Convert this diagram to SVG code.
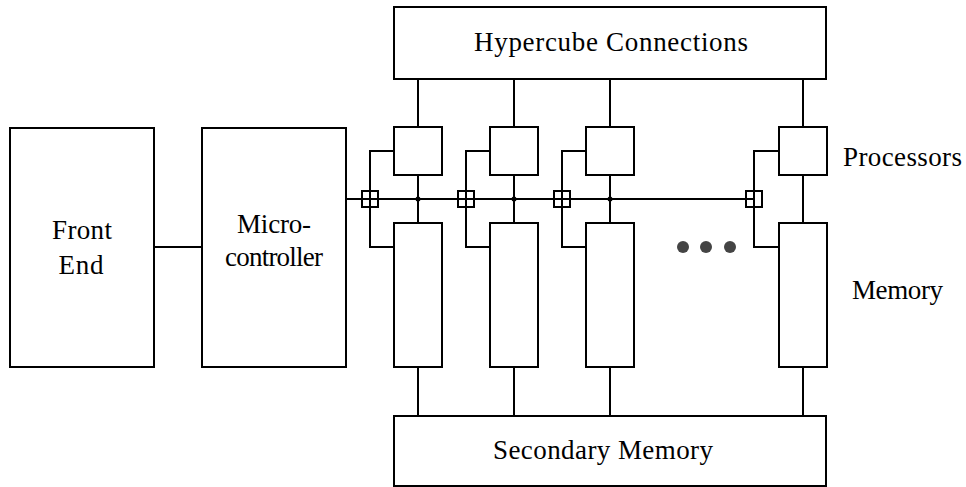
<svg xmlns="http://www.w3.org/2000/svg" width="966" height="487" viewBox="0 0 966 487">
<style>
.box{fill:#fff;stroke:#000;stroke-width:2}
.ln{fill:none;stroke:#000;stroke-width:2}
.sq{fill:none;stroke:#000;stroke-width:2}
text{font-size:27px;fill:#000}
.c{text-anchor:middle}
</style>
<rect width="966" height="487" fill="#fff"/>
<g id="connectors">
<path class="ln" d="M154,247H202"/>
<path class="ln" d="M346,199H754"/>
<path class="ln" d="M418,79V127M418,175V223M418,367V416"/>
<path class="ln" d="M514,79V127M514,175V223M514,367V416"/>
<path class="ln" d="M610,79V127M610,175V223M610,367V416"/>
<path class="ln" d="M803,79V127M803,175V223M803,367V416"/>
<path class="ln" d="M394,151H370V247H394"/>
<path class="ln" d="M490,151H466V247H490"/>
<path class="ln" d="M586,151H562V247H586"/>
<path class="ln" d="M779,151H754V247H779"/>
<rect class="sq" x="362" y="191" width="16" height="16"/>
<rect class="sq" x="458" y="191" width="16" height="16"/>
<rect class="sq" x="554" y="191" width="16" height="16"/>
<rect class="sq" x="746" y="191" width="16" height="16"/>
<circle cx="418" cy="199" r="2.5"/>
<circle cx="514" cy="199" r="2.5"/>
<circle cx="610" cy="199" r="2.5"/>
</g>
<g id="front-end" font-family="Liberation Serif, serif">
<rect class="box" x="10" y="128" width="144" height="239"/>
<text class="c" x="82" y="239" textLength="60">Front</text>
<text class="c" x="81" y="274" textLength="45">End</text>
</g>
<g id="microcontroller" font-family="Liberation Serif, serif">
<rect class="box" x="202" y="128" width="144" height="239"/>
<text class="c" x="274" y="233" textLength="74">Micro-</text>
<text class="c" x="274" y="266" textLength="98">controller</text>
</g>
<g id="hypercube" font-family="Liberation Serif, serif">
<rect class="box" x="394" y="7" width="432" height="72"/>
<text class="c" x="611" y="51" textLength="274">Hypercube Connections</text>
</g>
<g id="secondary-memory" font-family="Liberation Serif, serif">
<rect class="box" x="394" y="416" width="432" height="70"/>
<text class="c" x="603" y="459" textLength="220">Secondary Memory</text>
</g>
<g id="proc1"><rect class="box" x="394" y="127" width="48" height="48"/></g>
<g id="proc2"><rect class="box" x="490" y="127" width="48" height="48"/></g>
<g id="proc3"><rect class="box" x="586" y="127" width="48" height="48"/></g>
<g id="proc4"><rect class="box" x="779" y="127" width="48" height="48"/></g>
<g id="mem1"><rect class="box" x="394" y="223" width="48" height="144"/></g>
<g id="mem2"><rect class="box" x="490" y="223" width="48" height="144"/></g>
<g id="mem3"><rect class="box" x="586" y="223" width="48" height="144"/></g>
<g id="mem4"><rect class="box" x="779" y="223" width="48" height="144"/></g>
<g id="ellipsis">
<circle cx="683" cy="247" r="6" fill="#444"/>
<circle cx="706" cy="247" r="6" fill="#444"/>
<circle cx="730" cy="247" r="6" fill="#444"/>
</g>
<g id="label-processors" font-family="Liberation Serif, serif"><text x="843" y="166" textLength="119">Processors</text></g>
<g id="label-memory" font-family="Liberation Serif, serif"><text x="852" y="299" textLength="91">Memory</text></g>
</svg>
